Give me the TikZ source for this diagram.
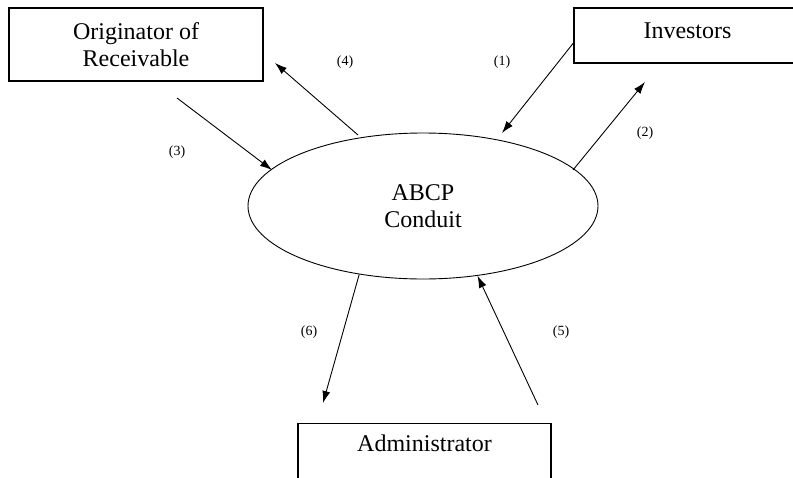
\documentclass[tikz,border=0pt]{standalone}
\usepackage{fontspec}
\setmainfont{Liberation Serif}
\usetikzlibrary{shapes.geometric}
\usetikzlibrary{arrows.meta}

\begin{document}
\begin{tikzpicture}[x=1pt,y=-1pt,
    box/.style={draw,line width=1.2pt,inner sep=0pt,align=center,
      font=\fontsize{24}{27}\selectfont},
    conduit/.style={draw,ellipse,line width=0.9pt,inner sep=0pt,
      minimum width=350pt,minimum height=146pt,align=center,
      font=\fontsize{24}{27}\selectfont},
    flow/.style={-{Latex[length=12pt,width=8pt]},line width=0.9pt},
    num/.style={font=\fontsize{14}{16}\selectfont}]
  \useasboundingbox (0,0) rectangle (793,477);

  % parties
  \node[box,minimum width=254pt,minimum height=73pt] (orig) at (136,44.5) {Originator of\\Receivable};
  \node[box,minimum width=227pt,minimum height=55pt,text depth=10pt] (inv) at (687.5,35.5) {Investors};
  \node[box,minimum width=253pt,minimum height=62pt,anchor=north,text depth=22pt] (adm) at (424.5,423) {Administrator};
  \node[conduit] (abcp) at (423,206) {ABCP\\Conduit};

  % free arrow ends
  \coordinate (e1) at (502,133);
  \coordinate (s2) at (573,170);
  \coordinate (e2) at (645,82);
  \coordinate (s3) at (177,98);
  \coordinate (e3) at (272,170);
  \coordinate (s4) at (358,135);
  \coordinate (e4) at (275,63);
  \coordinate (e6) at (323,403);
  \coordinate (s5) at (538,405);

  \draw[flow] ([yshift=-7.5pt]inv.west) -- (e1);
  \draw[flow] (s2) -- (e2);
  \draw[flow] (s3) -- (e3);
  \draw[flow] (s4) -- (e4);
  \draw[flow] (abcp.227) -- (e6);
  \draw[flow] (s5) -- (abcp.308);

  \node[num] (n1) at (502,62) {(1)};
  \node[num] (n2) at (645,133) {(2)};
  \node[num] (n3) at (177,152) {(3)};
  \node[num] (n4) at (345,62) {(4)};
  \node[num] (n5) at (561,332) {(5)};
  \node[num] (n6) at (309,332) {(6)};
\end{tikzpicture}
\end{document}
